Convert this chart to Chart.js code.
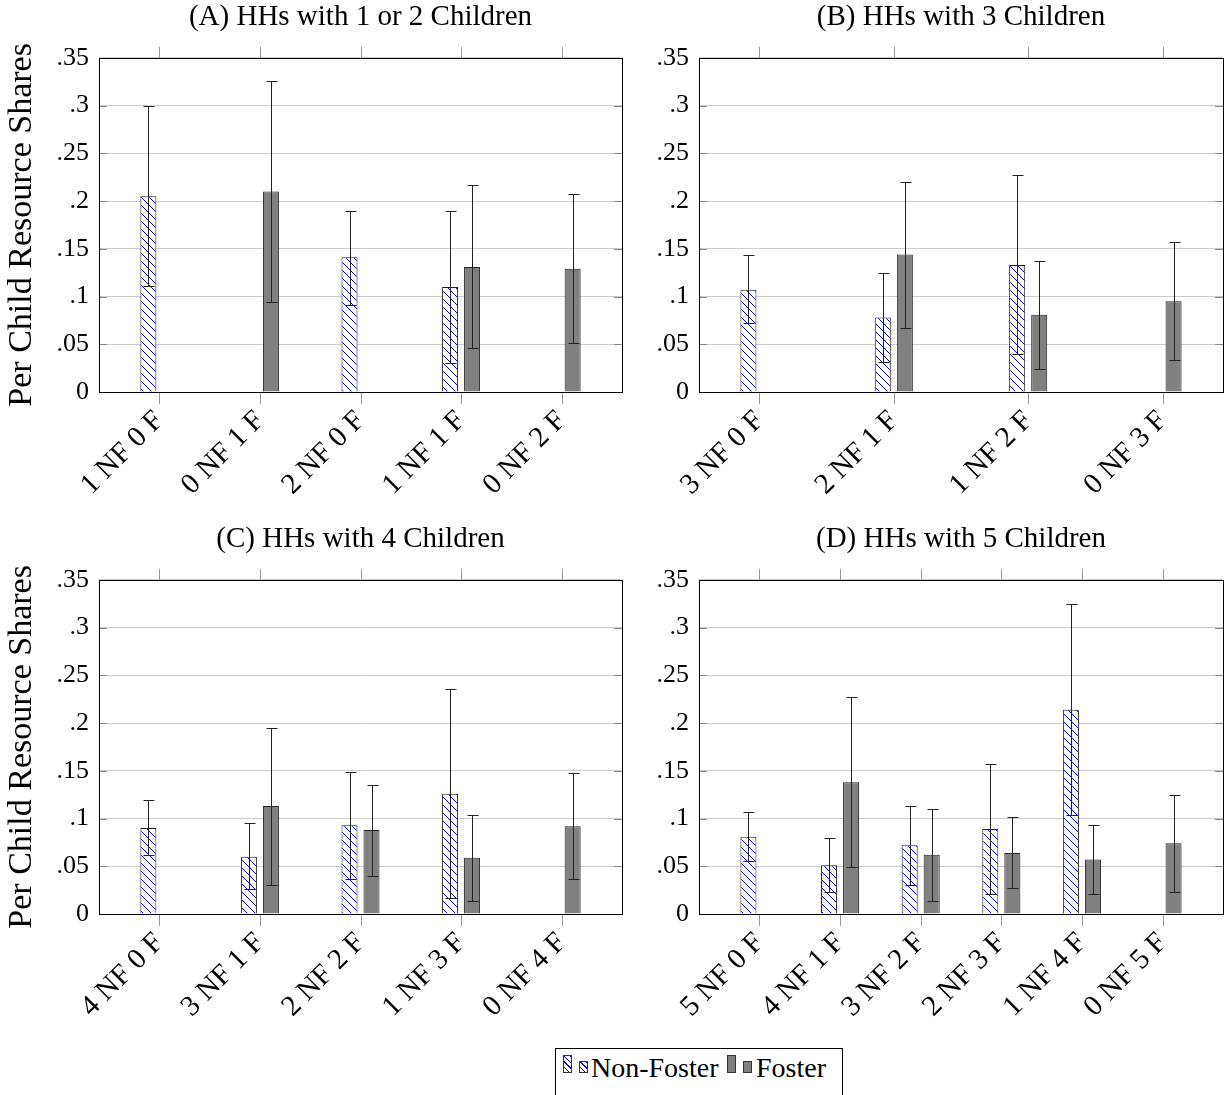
<!DOCTYPE html>
<html>
<head>
<meta charset="utf-8">
<script src="https://cdn.jsdelivr.net/npm/chart.js@4.4.0/dist/chart.umd.min.js"></script>
<style>
    body { margin: 0; width: 1225px; height: 1095px; background: #fff; position: relative; overflow: hidden; font-family: 'Liberation Serif', serif; }
    canvas { position: absolute; }
    #cA { left: 0; top: 0; }
    #cB { left: 624px; top: 0; }
    #cC { left: 0; top: 522px; }
    #cD { left: 624px; top: 522px; }
    .legend { position: absolute; left: 555px; top: 1048px; width: 288px; height: 70px; border: 1px solid #000; box-sizing: border-box; }
    .icon { position: absolute; border: 1px solid #333; box-sizing: border-box; }
    .hatch { background: repeating-linear-gradient(45deg, #fff 0 3px, #00f 3px 4px); }
    .solid { background: #808080; }
    .ltext { position: absolute; font-size: 28px; line-height: 28px; color: #000; white-space: nowrap; }
</style>
</head>
<body>
<canvas id="cA" width="625" height="520"></canvas>
<canvas id="cB" width="601" height="520"></canvas>
<canvas id="cC" width="625" height="520"></canvas>
<canvas id="cD" width="601" height="520"></canvas>

<div class="legend"></div>
<div class="icon hatch" style="left:563px; top:1055px; width:9px; height:18px;"></div>
<div class="icon hatch" style="left:579px; top:1061px; width:9px; height:12px;"></div>
<div class="ltext" style="left:591px; top:1054px;">Non-Foster</div>
<div class="icon solid" style="left:727px; top:1055px; width:9px; height:18px;"></div>
<div class="icon solid" style="left:743px; top:1061px; width:9px; height:12px;"></div>
<div class="ltext" style="left:756px; top:1054px;">Foster</div>

<script>
// (A) 1 or 2 children
const labelsA = ['1 NF 0 F', '0 NF 1 F', '2 NF 0 F', '1 NF 1 F', '0 NF 2 F'];
const nonFosterA = [0.205, 0, 0.141, 0.110, 0];
const nonFosterLoA = [0.111, null, 0.091, 0.030, null];
const nonFosterHiA = [0.299, null, 0.190, 0.190, null];
const fosterA = [0, 0.210, 0, 0.131, 0.129];
const fosterLoA = [null, 0.094, null, 0.046, 0.051];
const fosterHiA = [null, 0.326, null, 0.217, 0.207];

// (B) 3 children
const labelsB = ['3 NF 0 F', '2 NF 1 F', '1 NF 2 F', '0 NF 3 F'];
const nonFosterB = [0.107, 0.078, 0.133, 0];
const nonFosterLoB = [0.072, 0.031, 0.040, null];
const nonFosterHiB = [0.143, 0.125, 0.227, null];
const fosterB = [0, 0.144, 0.081, 0.095];
const fosterLoB = [null, 0.067, 0.024, 0.034];
const fosterHiB = [null, 0.220, 0.137, 0.157];

// (C) 4 children
const labelsC = ['4 NF 0 F', '3 NF 1 F', '2 NF 2 F', '1 NF 3 F', '0 NF 4 F'];
const nonFosterC = [0.090, 0.060, 0.093, 0.126, 0];
const nonFosterLoC = [0.062, 0.026, 0.037, 0.017, null];
const nonFosterHiC = [0.119, 0.095, 0.149, 0.236, null];
const fosterC = [0, 0.113, 0.088, 0.059, 0.092];
const fosterLoC = [null, 0.030, 0.040, 0.014, 0.037];
const fosterHiC = [null, 0.195, 0.135, 0.104, 0.148];

// (D) 5 children
const labelsD = ['5 NF 0 F', '4 NF 1 F', '3 NF 2 F', '2 NF 3 F', '1 NF 4 F', '0 NF 5 F'];
const nonFosterD = [0.081, 0.051, 0.072, 0.089, 0.214, 0];
const nonFosterLoD = [0.056, 0.023, 0.030, 0.021, 0.104, null];
const nonFosterHiD = [0.107, 0.080, 0.113, 0.157, 0.325, null];
const fosterD = [0, 0.138, 0.062, 0.064, 0.057, 0.074];
const fosterLoD = [null, 0.049, 0.014, 0.027, 0.021, 0.023];
const fosterHiD = [null, 0.227, 0.110, 0.102, 0.093, 0.125];

const yTicks = [0, 0.05, 0.1, 0.15, 0.2, 0.25, 0.3, 0.35];

Chart.defaults.font.family = "'Liberation Serif', serif";
Chart.defaults.color = '#000';

// blue "north west lines" hatch, pixel drawn so it stays crisp, one per canvas
const makeHatch = (ctx) => {
    const c = document.createElement('canvas');
    c.width = 8;
    c.height = 8;
    const g = c.getContext('2d');
    g.fillStyle = '#fff';
    g.fillRect(0, 0, 8, 8);
    g.fillStyle = '#0000ff';
    for (let i = 0; i < 8; i++) {
        g.fillRect(i, i, 1, 1);
    }
    return ctx.createPattern(c, 'repeat');
};

const px = v => Math.round(v) + 0.5;

const framePlugin = {
    id: 'frame',
    afterDatasetsDraw(chart) {
        const ctx = chart.ctx;
        const ys = chart.scales.y;
        ctx.save();
        ctx.strokeStyle = '#222';
        ctx.lineWidth = 1;
        chart.data.datasets.forEach((ds, i) => {
            const meta = chart.getDatasetMeta(i);
            meta.data.forEach((bar, j) => {
                if (ds.errLo[j] == null) return;
                const x = px(bar.x);
                const top = px(ys.getPixelForValue(ds.errHi[j]));
                const bot = px(ys.getPixelForValue(ds.errLo[j]));
                ctx.beginPath();
                ctx.moveTo(x, top); ctx.lineTo(x, bot);
                ctx.moveTo(x - 5, top); ctx.lineTo(x + 6, top);
                ctx.moveTo(x - 5, bot); ctx.lineTo(x + 6, bot);
                ctx.stroke();
            });
        });
        ctx.restore();
    },
    afterDraw(chart) {
        const ctx = chart.ctx;
        const a = chart.chartArea;
        const xs = chart.scales.x;
        const ys = chart.scales.y;
        const n = chart.data.datasets[0].data.length;
        ctx.save();
        ctx.lineWidth = 1;
        // category ticks above and below the frame
        ctx.strokeStyle = '#999';
        ctx.beginPath();
        for (let k = 0; k < n; k++) {
            const x = px(xs.getPixelForValue(k));
            ctx.moveTo(x, a.top - 11); ctx.lineTo(x, a.top);
            ctx.moveTo(x, a.bottom); ctx.lineTo(x, a.bottom + 12);
        }
        ctx.stroke();
        // y ticks inside on both sides
        ctx.strokeStyle = '#888';
        ctx.beginPath();
        yTicks.forEach(v => {
            const y = px(ys.getPixelForValue(v));
            ctx.moveTo(a.left, y); ctx.lineTo(a.left + 8, y);
            ctx.moveTo(a.right - 8, y); ctx.lineTo(a.right, y);
        });
        ctx.stroke();
        // frame
        ctx.strokeStyle = '#000';
        ctx.strokeRect(px(a.left), px(a.top), Math.round(a.right - a.left), Math.round(a.bottom - a.top));
        ctx.restore();
    }
};

const PLOT_W = 523;

const makeChart = (id, title, labels, nf, nfLo, nfHi, f, fLo, fHi, showYTitle) => {
    const n = labels.length;
    const unitPx = PLOT_W / (1.3 * (n - 1));
    const canvas = document.getElementById(id);
    const dataNF = nf.map((v, i) => ({ x: i, y: v }));
    const dataF = f.map((v, i) => ({ x: i, y: v }));

    const config = {
        type: 'bar',
        data: {
            datasets: [
                {
                    label: 'Non-Foster',
                    data: dataNF,
                    errLo: nfLo,
                    errHi: nfHi,
                    backgroundColor: makeHatch(canvas.getContext('2d')),
                    borderColor: '#222',
                    borderWidth: 1,
                },
                {
                    label: 'Foster',
                    data: dataF,
                    errLo: fLo,
                    errHi: fHi,
                    backgroundColor: '#808080',
                    borderColor: '#222',
                    borderWidth: 1,
                },
            ],
        },
        options: {
            responsive: false,
            animation: false,
            categoryPercentage: 44 / unitPx,
            barPercentage: 16 / 22,
            layout: { padding: { left: 0, right: showYTitle ? 3 : 2, top: 0, bottom: 0 } },
            plugins: {
                legend: { display: false },
                tooltip: { enabled: false },
                title: {
                    display: true,
                    fullSize: false,
                    text: title,
                    font: { size: 29, weight: 'normal' },
                    color: '#000',
                    padding: { top: 0, bottom: 23 },
                },
            },
            scales: {
                x: {
                    type: 'linear',
                    offset: false,
                    min: -0.15 * (n - 1),
                    max: 1.15 * (n - 1),
                    afterFit(s) { s.height = 128; },
                    grid: { display: false },
                    border: { display: false },
                    ticks: {
                        stepSize: 1,
                        includeBounds: false,
                        autoSkip: false,
                        minRotation: 45,
                        maxRotation: 45,
                        padding: 4,
                        font: { size: 29 },
                        color: '#000',
                        callback: v => Number.isInteger(v) ? labels[v] : '',
                    },
                },
                y: {
                    min: 0,
                    max: 0.35,
                    afterFit(s) { s.width = showYTitle ? 99 : 75; },
                    afterBuildTicks(s) { s.ticks = yTicks.map(v => ({ value: v })); },
                    grid: { color: '#cccccc', drawTicks: false },
                    border: { display: false },
                    ticks: {
                        padding: 10,
                        font: { size: 26 },
                        color: '#000',
                        callback: v => v === 0 ? '0' : String(+v.toFixed(2)).replace(/^0/, ''),
                    },
                    title: {
                        display: showYTitle,
                        text: 'Per Child Resource Shares',
                        font: { size: 34 },
                        color: '#000',
                        padding: { top: 2, bottom: 0 },
                    },
                },
            },
        },
        plugins: [framePlugin],
    };
    return new Chart(canvas, config);
};

makeChart('cA', '(A) HHs with 1 or 2 Children', labelsA, nonFosterA, nonFosterLoA, nonFosterHiA, fosterA, fosterLoA, fosterHiA, true);
makeChart('cB', '(B) HHs with 3 Children', labelsB, nonFosterB, nonFosterLoB, nonFosterHiB, fosterB, fosterLoB, fosterHiB, false);
makeChart('cC', '(C) HHs with 4 Children', labelsC, nonFosterC, nonFosterLoC, nonFosterHiC, fosterC, fosterLoC, fosterHiC, true);
makeChart('cD', '(D) HHs with 5 Children', labelsD, nonFosterD, nonFosterLoD, nonFosterHiD, fosterD, fosterLoD, fosterHiD, false);
</script>
</body>
</html>
